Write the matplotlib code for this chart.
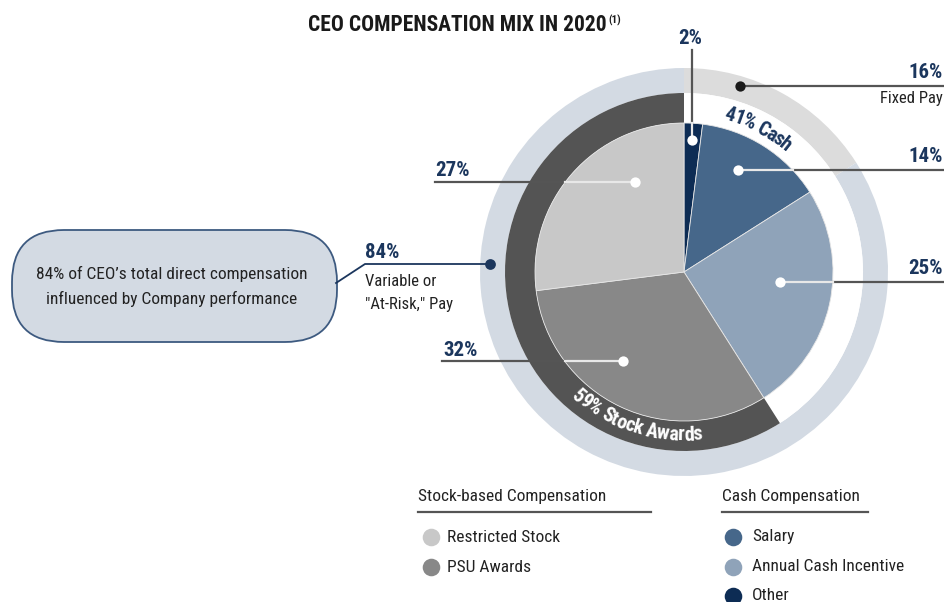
import numpy as np
import matplotlib
matplotlib.use("Agg")
import matplotlib.pyplot as plt
from matplotlib import font_manager as fm
from matplotlib.patches import FancyBboxPatch
from matplotlib.textpath import text_to_path
from matplotlib.font_manager import FontProperties

# data
pie_labels = ["Other", "Salary", "Annual Cash Incentive", "PSU Awards", "Restricted Stock"]
pie_values = [2, 14, 25, 32, 27]
pie_colors = ["#0d2c54", "#46678a", "#8fa3b9", "#888888", "#c8c8c8"]

stock_items = ["Restricted Stock", "PSU Awards"]
cash_items = ["Salary", "Annual Cash Incentive", "Other"]

cash_total = sum(pie_values[:3])      # 41
stock_total = sum(pie_values[3:])     # 59
fixed_total = sum(pie_values[:2])     # 16
variable_total = 100 - fixed_total    # 84

names = {f.name for f in fm.fontManager.ttflist}
FONT = next((n for n in ["Roboto Condensed", "PT Sans Narrow", "Liberation Sans"] if n in names), "DejaVu Sans")
plt.rcParams["font.family"] = [FONT, "DejaVu Sans"]

NAVY = "#1b365d"
LINE = "#555555"
TXT = "#222222"

fig = plt.figure(figsize=(9.45, 6.02), dpi=100)
ax = fig.add_axes([0, 0, 1, 1])

cx, cy = 684, 272
R_PIE, R_MID, R_OUT = 149, 179, 204

# outer ring: fixed vs variable
ax.pie([fixed_total, variable_total], colors=["#dcdcdc", "#d3dae3"], radius=R_OUT,
       center=(cx, cy), startangle=-90, counterclock=True,
       wedgeprops=dict(width=R_OUT - R_MID, linewidth=0), frame=True)
# middle ring: cash vs stock
ax.pie([cash_total, stock_total], colors=["white", "#545454"], radius=R_MID,
       center=(cx, cy), startangle=-90, counterclock=True,
       wedgeprops=dict(width=R_MID - R_PIE, linewidth=0), frame=True)
# inner pie
ax.pie(pie_values, colors=pie_colors, radius=R_PIE, center=(cx, cy),
       startangle=-90, counterclock=True,
       wedgeprops=dict(linewidth=0.6, edgecolor="#e6e6e6"), frame=True)
ax.set_xlim(0, 945)
ax.set_ylim(602, 0)
ax.set_aspect("equal")
ax.axis("off")


def curved_text(s, phi_c, r, size, color, bottom=False, track=0.93):
    prop = FontProperties(family=FONT, weight="bold", size=size)
    def w(t):
        if not t:
            return 0.0
        return text_to_path.get_text_width_height_descent(t, prop, ismath=False)[0] * 100 / 72
    total = w(s)
    for i, ch in enumerate(s):
        off = ((w(s[:i]) + w(s[:i + 1])) / 2 - total / 2) * track
        d = np.degrees(off / r)
        phi = phi_c - d if bottom else phi_c + d
        x = cx + r * np.sin(np.radians(phi))
        y = cy - r * np.cos(np.radians(phi))
        rot = 180 - phi if bottom else -phi
        ax.text(x, y, ch, fontsize=size, fontweight="bold", color=color,
                ha="center", va="center", rotation=rot, rotation_mode="anchor")


curved_text(f"{cash_total}% Cash", 27.5, 163, 14.5, NAVY)
curved_text(f"{stock_total}% Stock Awards", 198, 163, 14.5, "white", bottom=True)


def leader(xs, ys, dot, dot_color="white", inner=None):
    # dark part outside pie, light part inside pie
    if inner is None:
        ax.plot(xs, ys, color=LINE, lw=1.6, solid_capstyle="butt", zorder=5)
    else:
        ax.plot([xs[0], inner[0]], [ys[0], inner[1]], color=LINE, lw=1.6, zorder=5)
        ax.plot([inner[0], dot[0]], [inner[1], dot[1]], color="#e8e8e8", lw=1.6, zorder=5)
    ax.scatter([dot[0]], [dot[1]], s=55, color=dot_color, zorder=6, linewidths=0)


def pie_edge_x(y, side):
    dy = y - cy
    return cx + side * np.sqrt(R_PIE ** 2 - dy ** 2)


lab = dict(fontsize=15, fontweight="bold", color=NAVY, va="center")
sub = dict(va="center", fontsize=12, color=TXT)

# 2% Other
ax.text(690, 38, f"{pie_values[0]}%", ha="center", **lab)
leader([692, 692], [50, 140], (692, 140), inner=(692, cy - np.sqrt(R_PIE**2 - 8**2)))
# 16% fixed pay
ax.text(943, 72, f"{fixed_total}%", ha="right", **lab)
ax.text(943, 99, "Fixed Pay", ha="right", **sub)
leader([945, 740], [86, 86], (740, 86), dot_color="#1a1a1a")
# 14% salary
ax.text(943, 157, f"{pie_values[1]}%", ha="right", **lab)
leader([945, 738], [170, 170], (738, 170), inner=(pie_edge_x(170, 1), 170))
# 25% annual
ax.text(943, 268, f"{pie_values[2]}%", ha="right", **lab)
leader([945, 780], [282, 282], (780, 282), inner=(pie_edge_x(282, 1), 282))
# 27% restricted stock
ax.text(435, 170, f"{pie_values[4]}%", ha="left", **lab)
leader([435, 635], [182, 182], (635, 182), inner=(pie_edge_x(182, -1), 182))
# 32% PSU
ax.text(443, 350, f"{pie_values[3]}%", ha="left", **lab)
leader([442, 623], [361, 361], (623, 361), inner=(pie_edge_x(361, -1), 361))

# 84% variable
ax.text(365, 252, f"{variable_total}%", ha="left", **lab)
ax.text(365, 281, "Variable or", ha="left", **sub)
ax.text(365, 305, '"At-Risk," Pay', ha="left", **sub)
ax.plot([336, 365, 490], [283, 264, 264], color=NAVY, lw=1.3, zorder=5)
ax.scatter([490], [264], s=60, color=NAVY, zorder=6, linewidths=0)

# callout box
box = FancyBboxPatch((12, 230), 325, 112, boxstyle="round,pad=0,rounding_size=52",
                     facecolor="#d3dae3", edgecolor="#3d5a80", lw=1.3, zorder=4)
ax.add_patch(box)
ax.text(172, 274, f"{variable_total}% of CEO\u2019s total direct compensation",
        ha="center", va="center", fontsize=12.5, color=TXT, zorder=5)
ax.text(172, 299, "influenced by Company performance",
        ha="center", va="center", fontsize=12.5, color=TXT, zorder=5)

# title
ax.text(607, 25, "CEO COMPENSATION MIX IN 2020", ha="right", va="center",
        fontsize=15.5, fontweight="bold", color="#1a1a1a")
ax.text(608, 20, "(1)", ha="left", va="center", fontsize=8, fontweight="bold", color="#1a1a1a")

# legend
leg_col = dict(zip(pie_labels, pie_colors))
ax.text(418, 497, "Stock-based Compensation", ha="left", fontsize=12.5, va="center", color=TXT)
ax.plot([418, 651], [512, 512], color=LINE, lw=1.6)
for i, name in enumerate(stock_items):
    y = 537 + 30 * i
    ax.scatter([431], [y], s=160, color=leg_col[name], linewidths=0)
    ax.text(447, y, name, ha="left", fontsize=12.5, va="center", color=TXT)

ax.text(722, 497, "Cash Compensation", ha="left", fontsize=12.5, va="center", color=TXT)
ax.plot([722, 868], [512, 512], color=LINE, lw=1.6)
for i, name in enumerate(cash_items):
    y = 537 + 29.5 * i
    ax.scatter([733], [y], s=160, color=leg_col[name], linewidths=0)
    ax.text(752, y, name, ha="left", fontsize=12.5, va="center", color=TXT)

fig.savefig("out.png", dpi=100)
